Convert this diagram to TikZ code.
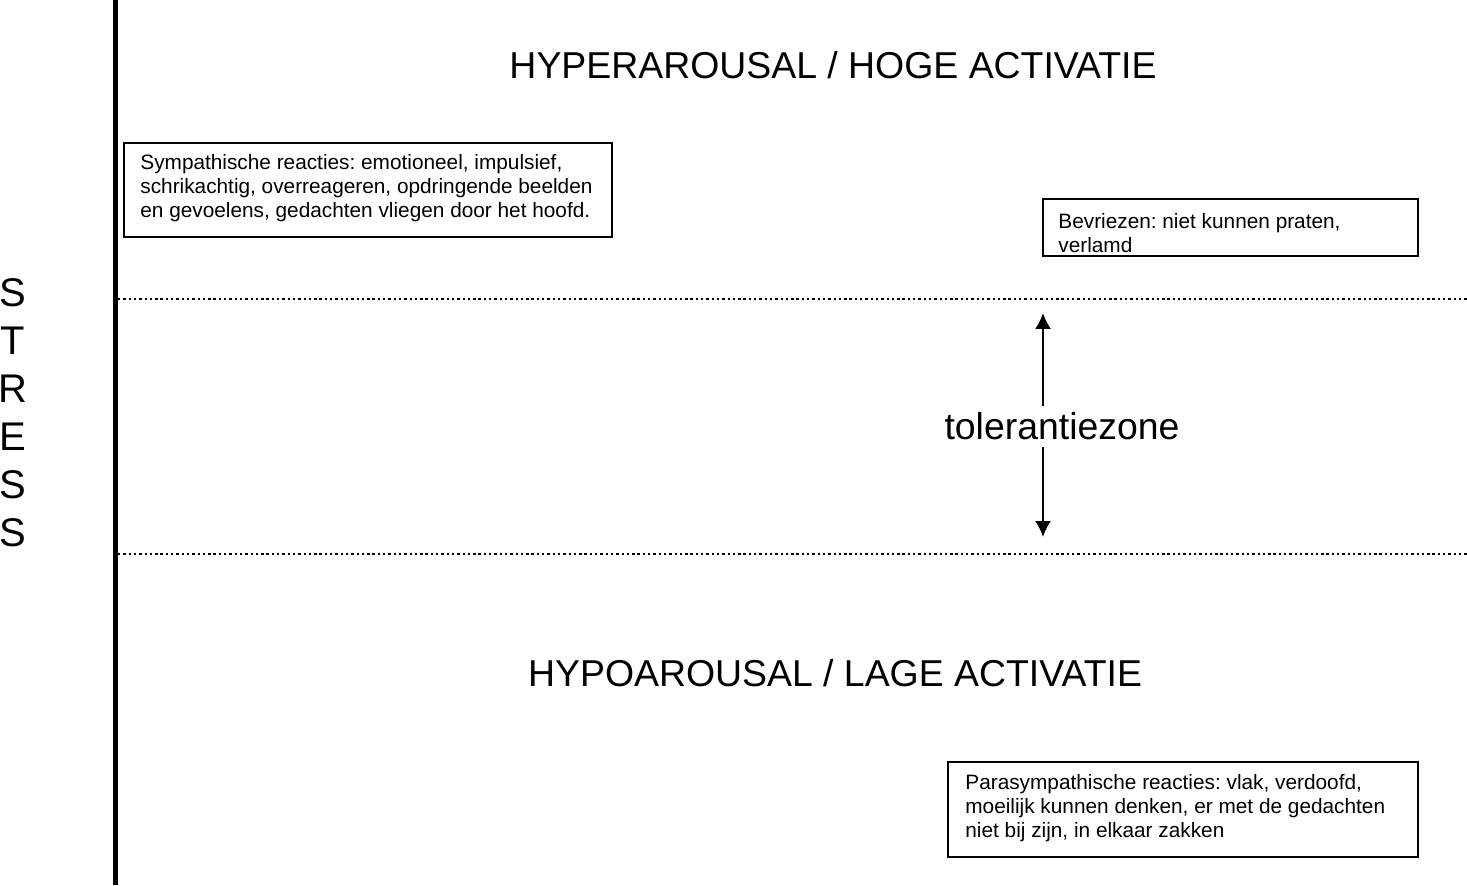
\documentclass[tikz,border=0pt]{standalone}
\usepackage{fontspec}
\setmainfont{Liberation Sans}
\usetikzlibrary{arrows.meta}
\tikzset{>={Latex[length=8pt,width=8pt]}}
\tikzset{
  title/.style = {font=\fontsize{18.7}{22}\selectfont, anchor=base},
  zoneline/.style = {line width=0.9pt, dash pattern=on 1.2pt off 1.45pt},
  reactbox/.style = {draw, line width=1.2pt, inner sep=0pt, outer sep=0pt, anchor=north west},
  reacttext/.style = {font=\fontsize{10.4}{12}\selectfont, align=left, inner sep=0pt, anchor=north west}
}

\begin{document}
\frenchspacing
\begin{tikzpicture}[x=0.5pt,y=0.5pt]
  \useasboundingbox (0,0) rectangle (1467,885);
  % stress axis
  \draw[line width=2.5pt] (115,0) -- (115,885);
  \node (stress) at (12.5,607) [anchor=north, inner sep=0pt, align=center, font=\fontsize{20}{24}\selectfont] {S\\T\\R\\E\\S\\S};
  % borders of the zone
  \draw[zoneline] (118,586) -- (1467,586);
  \draw[zoneline] (118,331) -- (1467,331);
  % titles
  \node (hyper) at (833,806) [title] {HYPERAROUSAL / HOGE ACTIVATIE};
  \node (hypo) at (835,199) [title] {HYPOAROUSAL / LAGE ACTIVATIE};
  % tolerance zone
  \node (zone) at (1062,445) [title, inner sep=3pt] {tolerantiezone};
  \coordinate (zonetop) at (1043,572);
  \coordinate (zonebottom) at (1043,348);
  \draw[->,line width=1pt] (zonetop |- zone.north) -- (zonetop);
  \draw[->,line width=1pt] (zonebottom |- zone.south) -- (zonebottom);
  % reaction boxes
  \node (symp) at (124,742) [reactbox, minimum width=244pt, minimum height=47pt] {};
  \node (sympText) at ([shift={(16,-11)}]symp.north west) [reacttext]
    {Sympathische reacties: emotioneel, impulsief,\\schrikachtig, overreageren, opdringende beelden\\en gevoelens, gedachten vliegen door het hoofd.};
  \node (freeze) at (1043,686) [reactbox, minimum width=187.5pt, minimum height=28.5pt] {};
  \node (freezeText) at ([shift={(15,-14)}]freeze.north west) [reacttext]
    {Bevriezen: niet kunnen praten,\\verlamd};
  \node (para) at (948,123) [reactbox, minimum width=235pt, minimum height=47.5pt] {};
  \node (paraText) at ([shift={(17,-12)}]para.north west) [reacttext]
    {Parasympathische reacties: vlak, verdoofd,\\moeilijk kunnen denken, er met de gedachten\\niet bij zijn, in elkaar zakken};
\end{tikzpicture}
\end{document}
